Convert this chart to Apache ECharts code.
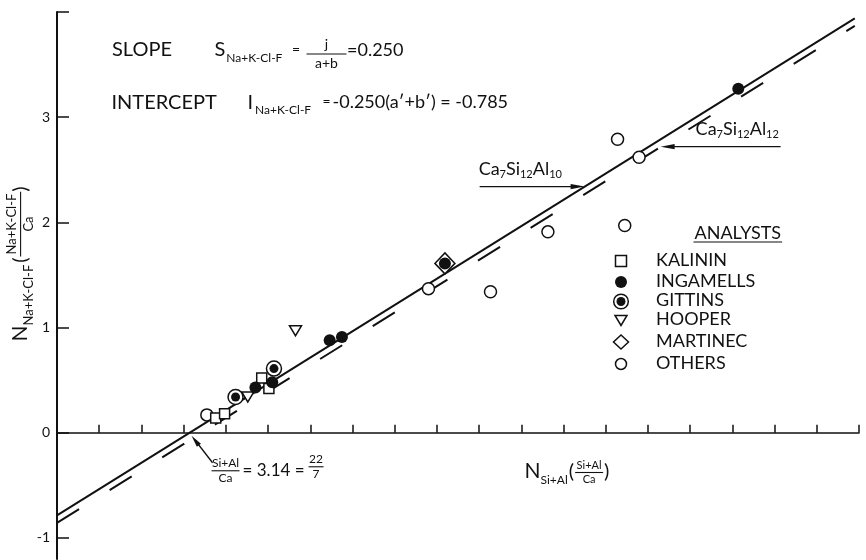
<!DOCTYPE html>
<html>
<head>
<meta charset="utf-8">
<script src="https://cdn.jsdelivr.net/npm/echarts@6/dist/echarts.min.js"></script>
<style>
  html, body { margin: 0; padding: 0; background: #fff; }
  #chart { width: 866px; height: 560px; }
</style>
</head>
<body>
<div id="chart"></div>
<script>
// Fitted line: N(Na+K-Cl-F) = S * N(Si+Al) + I
const fitSlope = 0.250;
const fitIntercept = -0.785;
const fitCrossing = 3.14;          // (Si+Al)/Ca where the fit crosses zero
// Ca7Si12Al12 line, same slope, lower intercept
const al12Intercept = -0.857;
const lineSpan = [0, 18.9];

// Analyses: [N(Si+Al), N(Na+K-Cl-F)]
const kalinin   = [[3.76, 0.14], [3.97, 0.18], [4.85, 0.52], [5.02, 0.42]];
const ingamells = [[4.70, 0.43], [5.10, 0.48], [6.46, 0.88], [6.75, 0.91], [9.19, 1.61], [16.14, 3.27]];
const gittins   = [[4.23, 0.34], [5.14, 0.61]];
const hooper    = [[4.52, 0.34], [5.65, 0.97]];
const martinec  = [[9.19, 1.61]];
const others    = [[3.55, 0.17], [8.80, 1.37], [10.27, 1.34], [11.63, 1.91], [13.28, 2.79], [13.45, 1.97], [13.79, 2.62]];

const analysts = ['KALININ', 'INGAMELLS', 'GITTINS', 'HOOPER', 'MARTINEC', 'OTHERS'];

const yTickValues  = [-1, 0, 1, 2, 3, 4];
const yLabelValues = [-1, 0, 1, 2, 3];

// Points where the annotation arrows touch the lines
const al10Anchor = [12.5, 2.34];
const al12Anchor = [14.3, 2.72];

const INK = '#111';
const FONT = 'Lato, "Liberation Sans", sans-serif';

const fitLine  = lineSpan.map(x => [x, fitIntercept + fitSlope * x]);
const al12Line = lineSpan.map(x => [x, al12Intercept + fitSlope * x]);

const openStyle = { color: '#fff', borderColor: INK, borderWidth: 1.5, opacity: 1 };
const solidStyle = { color: INK, opacity: 1 };

const chart = echarts.init(document.getElementById('chart'), null, { renderer: 'canvas' });

chart.setOption({
  animation: false,
  backgroundColor: '#fff',
  grid: { left: 57, right: 7, top: 12, bottom: 1, containLabel: false, outerBoundsMode: 'none' },
  xAxis: {
    type: 'value', min: 0, max: 19, interval: 1,
    axisLine: { onZero: true, lineStyle: { color: INK, width: 1.5 } },
    axisTick: { inside: true, length: 8, lineStyle: { color: INK, width: 1.5 } },
    axisLabel: {
      margin: 4, color: INK, fontSize: 13, fontFamily: FONT, interval: 0,
      formatter: v => (v > 0 && v % 2 === 0) ? String(v) : ''
    },
    splitLine: { show: false }
  },
  yAxis: {
    type: 'value', min: -1.2, max: 4,
    axisLine: { show: true, onZero: false, lineStyle: { color: INK, width: 2 } },
    axisTick: { show: true, inside: true, length: 12, customValues: yTickValues, lineStyle: { color: INK, width: 1.5 } },
    axisLabel: { margin: 7, color: INK, fontSize: 14, fontFamily: FONT, customValues: yLabelValues, formatter: v => String(v) },
    splitLine: { show: false }
  },
  series: [
    { type: 'line', data: fitLine, showSymbol: false, silent: true, z: 2,
      lineStyle: { color: INK, width: 2 } },
    { type: 'line', data: al12Line, showSymbol: false, silent: true, z: 2,
      lineStyle: { color: INK, width: 2, type: [26, 36] } },
    { type: 'scatter', name: 'MARTINEC', data: martinec, symbol: 'diamond', symbolSize: [20, 21], itemStyle: openStyle, z: 3 },
    { type: 'scatter', name: 'OTHERS', data: others, symbol: 'circle', symbolSize: 12, itemStyle: openStyle, z: 4 },
    { type: 'scatter', name: 'KALININ', data: kalinin, symbol: 'rect', symbolSize: 10, itemStyle: openStyle, z: 4 },
    { type: 'scatter', name: 'HOOPER', data: hooper, symbol: 'path://M0,0L12,0L6,10Z', symbolSize: [12, 10], itemStyle: openStyle, z: 4 },
    { type: 'scatter', name: 'GITTINS', data: gittins, symbol: 'circle', symbolSize: 15, itemStyle: openStyle, z: 5 },
    { type: 'scatter', name: 'GITTINS', data: gittins, symbol: 'circle', symbolSize: 9, itemStyle: solidStyle, z: 6 },
    { type: 'scatter', name: 'INGAMELLS', data: ingamells, symbol: 'circle', symbolSize: 12, itemStyle: solidStyle, z: 6 }
  ]
});

// ---- text helpers ----
const measure = document.createElement('canvas').getContext('2d');
function widthOf(str, size) {
  measure.font = size + 'px ' + FONT;
  return measure.measureText(str).width;
}
function label(x, y, str, size, align) {
  const a = align || 'left';
  return {
    type: 'text', x: x, y: y, silent: true,
    style: { text: str, font: size + 'px ' + FONT, fill: INK,
             align: a, verticalAlign: 'middle', textAlign: a, textVerticalAlign: 'middle' }
  };
}
function rule(x1, y1, x2, y2, w) {
  return { type: 'line', silent: true, shape: { x1, y1, x2, y2 }, style: { stroke: INK, lineWidth: w || 1.2 } };
}
function head(tipX, tipY, fromX, fromY, len, half) {
  const dx = tipX - fromX, dy = tipY - fromY;
  const d = Math.hypot(dx, dy), ux = dx / d, uy = dy / d;
  const bx = tipX - ux * len, by = tipY - uy * len;
  return {
    type: 'polygon', silent: true,
    shape: { points: [[tipX, tipY], [bx - uy * half, by + ux * half], [bx + uy * half, by - ux * half]] },
    style: { fill: INK }
  };
}
// Lays out text runs left to right; a run is {t,s,dy} or a fraction {num,den,s,dy,w}
function typeset(x, y, parts) {
  const out = [];
  let cx = x;
  for (const p of parts) {
    if (p.at !== undefined) cx = x + p.at;
    const by = y + (p.dy || 0);
    if (p.num !== undefined) {
      const w = p.w || Math.max(widthOf(p.num, p.s), widthOf(p.den, p.s)) + 4;
      out.push(label(cx + w / 2, by - p.s * 0.65, p.num, p.s, 'center'));
      out.push(rule(cx, by, cx + w, by, 1.1));
      out.push(label(cx + w / 2, by + p.s * 0.65, p.den, p.s, 'center'));
      cx += w;
    } else {
      out.push(label(cx, by, p.t, p.s));
      cx += widthOf(p.t, p.s);
    }
    cx += p.gap || 0;
  }
  return out;
}
function formula(alSub) {
  return [
    { t: 'Ca', s: 18 }, { t: '7', s: 11, dy: 5 },
    { t: 'Si', s: 18 }, { t: '12', s: 11, dy: 5 },
    { t: 'Al', s: 18 }, { t: alSub, s: 11, dy: 5 }
  ];
}

// ---- annotations ----
const g = [];

// slope and intercept statements
g.push(label(112, 50, 'SLOPE', 20));
g.push(...typeset(214.5, 50, [
  { t: 'S', s: 20, gap: 1 },
  { t: 'Na+K-Cl-F', s: 12, dy: 8 },
  { at: 77.5, t: '=', s: 14, dy: -1 },
  { at: 92, num: 'j', den: 'a+b', s: 14, dy: 4, w: 40 },
  { at: 132.5, t: '=' + fitSlope.toFixed(3), s: 18 }
]));
g.push(label(111.5, 102.5, 'INTERCEPT', 20));
g.push(...typeset(247.5, 102.5, [
  { t: 'I', s: 20, gap: 2 },
  { t: 'Na+K-Cl-F', s: 12, dy: 8 },
  { at: 75, t: '=', s: 14, dy: -1 },
  { at: 85, t: '-' + fitSlope.toFixed(3) + '(a\u2032+b\u2032) = ' + fitIntercept.toFixed(3), s: 18 }
]));

// line labels with arrows
const p10 = chart.convertToPixel({ gridIndex: 0 }, al10Anchor);
g.push(rule(p10[0] - 105, p10[1], p10[0] - 10, p10[1], 1.3));
g.push(head(p10[0], p10[1], p10[0] - 20, p10[1], 14, 2.6));
g.push(...typeset(p10[0] - 106, p10[1] - 17, formula('10')));

const p12 = chart.convertToPixel({ gridIndex: 0 }, al12Anchor);
g.push(rule(p12[0] + 10, p12[1], p12[0] + 120, p12[1], 1.3));
g.push(head(p12[0], p12[1], p12[0] + 20, p12[1], 14, 2.6));
g.push(...typeset(p12[0] + 35, p12[1] - 17, formula('12')));

// zero crossing
const pc = chart.convertToPixel({ gridIndex: 0 }, [fitCrossing, 0]);
const tipX = pc[0] + 2, tipY = pc[1] + 3;
g.push(rule(tipX + 4, tipY + 5, tipX + 21, tipY + 27, 1.3));
g.push(head(tipX, tipY, tipX + 21, tipY + 27, 12, 2.6));
g.push(...typeset(tipX + 20, tipY + 35, [
  { num: 'Si+Al', den: 'Ca', s: 12, w: 28, gap: 3 },
  { t: '= ' + fitCrossing.toFixed(2) + ' =', s: 17, gap: 4 },
  { num: '22', den: '7', s: 12, w: 15, dy: -4 }
]));

// axis titles
g.push(...typeset(524.5, 471.5, [
  { t: 'N', s: 21 },
  { t: 'Si+Al', s: 12, dy: 8.5, gap: 1 },
  { t: '(', s: 20, gap: 1 },
  { num: 'Si+Al', den: 'Ca', s: 11, dy: 1, w: 28, gap: 1 },
  { t: ')', s: 20 }
]));
g.push({
  type: 'group', x: 20.6, y: 341.5, rotation: Math.PI / 2,
  children: typeset(0, 0, [
    { t: 'N', s: 21 },
    { t: 'Na+K-Cl-F', s: 13, dy: 8.5, gap: 2 },
    { t: '(', s: 20, gap: 1 },
    { num: 'Na+K-Cl-F', den: 'Ca', s: 13 },
    { t: ')', s: 20 }
  ])
});

// key of analysts
const keyX = 621, textX = 656;
const keyY = [261, 282, 301.5, 320.5, 342, 364];
g.push(label(694.5, 233, 'ANALYSTS', 18));
g.push(rule(693.5, 242, 694.5 + widthOf('ANALYSTS', 18) + 1, 242, 1.2));
const open = { fill: '#fff', stroke: INK, lineWidth: 1.5 };
const keyMarks = [
  y => [{ type: 'rect', shape: { x: keyX - 5.5, y: y - 5.5, width: 11, height: 11 }, style: open }],
  y => [{ type: 'circle', shape: { cx: keyX, cy: y, r: 6 }, style: { fill: INK } }],
  y => [{ type: 'circle', shape: { cx: keyX, cy: y, r: 7.3 }, style: open },
        { type: 'circle', shape: { cx: keyX, cy: y, r: 4.5 }, style: { fill: INK } }],
  y => [{ type: 'polygon', shape: { points: [[keyX - 6, y - 5], [keyX + 6, y - 5], [keyX, y + 5]] }, style: open }],
  y => [{ type: 'polygon', shape: { points: [[keyX, y - 7], [keyX + 7.5, y], [keyX, y + 7], [keyX - 7.5, y]] }, style: open }],
  y => [{ type: 'circle', shape: { cx: keyX, cy: y, r: 5.5 }, style: open }]
];
analysts.forEach((name, i) => {
  keyMarks[i](keyY[i]).forEach(m => { m.silent = true; g.push(m); });
  g.push(label(textX, keyY[i] - 1, name, 18));
});

chart.setOption({ graphic: { elements: g } });
</script>
</body>
</html>
